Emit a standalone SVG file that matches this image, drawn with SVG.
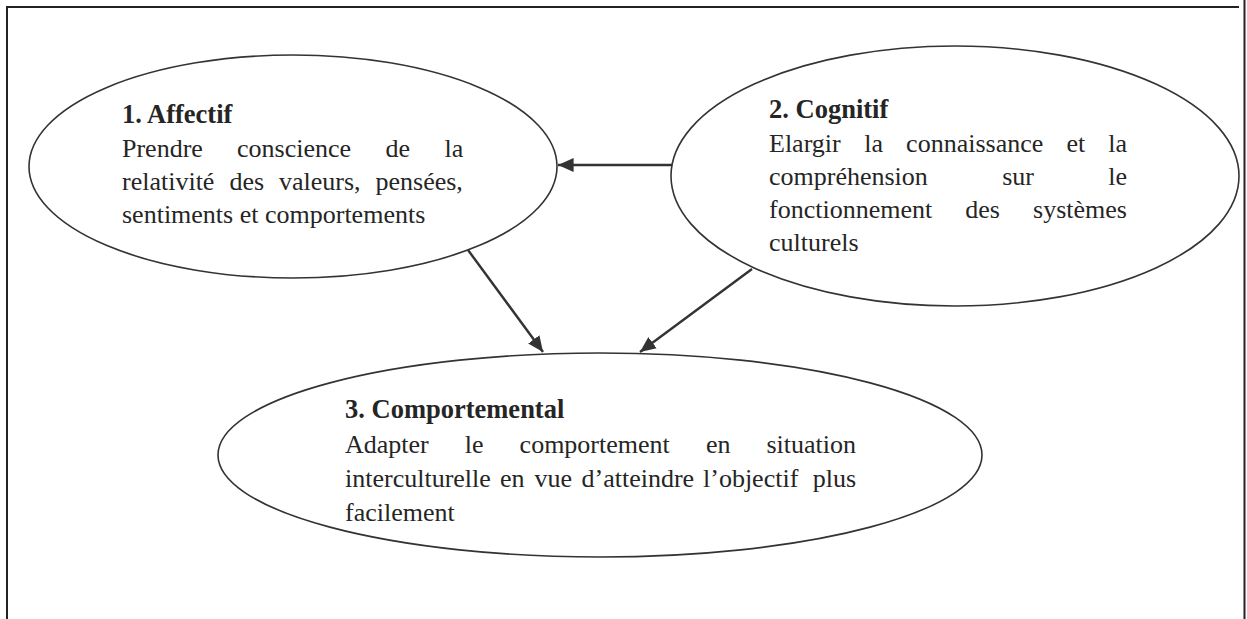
<svg xmlns="http://www.w3.org/2000/svg" width="1247" height="619" viewBox="0 0 1247 619">
  <defs>
    <marker id="arrow" viewBox="0 0 10 10" refX="10" refY="5" markerWidth="6.5" markerHeight="6.5" markerUnits="strokeWidth" orient="auto">
      <path d="M0,0.5 L10,5 L0,9.5 z" fill="#333"/>
    </marker>
    <style>
      .frame { stroke: #222; stroke-width: 2; fill: none; }
      .oval { fill: none; stroke: #333; stroke-width: 1.6; }
      .edge { stroke: #333; stroke-width: 2.4; fill: none; marker-end: url(#arrow); }
      text { font-family: "Liberation Serif", "Times New Roman", serif; fill: #252525; font-size: 26px; }
      .title { font-weight: bold; font-size: 26.5px; }
    </style>
  </defs>
  <rect width="1247" height="619" fill="#fff"/>

  <!-- page frame -->
  <path class="frame" d="M7,619 V7 H1239"/>
  <path class="frame" d="M1244.5,0 V619"/>

  <!-- connectors -->
  <g id="connectors">
    <line class="edge" x1="672" y1="165" x2="558" y2="165"/>
    <line class="edge" x1="468" y1="250" x2="543" y2="352"/>
    <line class="edge" x1="752" y1="269" x2="640" y2="352"/>
  </g>

  <!-- node 1: justified paragraph, words placed per line -->
  <g id="affectif">
    <ellipse class="oval" cx="293" cy="166.5" rx="264" ry="111.5"/>
    <text class="title" x="122" y="123">1. Affectif</text>
    <text y="157"><tspan x="122">Prendre</tspan><tspan x="237">conscience</tspan><tspan x="385.5">de</tspan><tspan x="444.5">la</tspan></text>
    <text y="190"><tspan x="122">relativité</tspan><tspan x="229.5">des</tspan><tspan x="279">valeurs,</tspan><tspan x="375.5">pensées,</tspan></text>
    <text x="122" y="223">sentiments et comportements</text>
  </g>

  <!-- node 2 -->
  <g id="cognitif">
    <ellipse class="oval" cx="955" cy="176" rx="284" ry="130"/>
    <text class="title" x="769" y="118">2. Cognitif</text>
    <text y="152"><tspan x="769">Elargir</tspan><tspan x="864.3">la</tspan><tspan x="906.1">connaissance</tspan><tspan x="1066.4">et</tspan><tspan x="1108.2">la</tspan></text>
    <text y="185"><tspan x="769">compréhension</tspan><tspan x="1002.2">sur</tspan><tspan x="1108.2">le</tspan></text>
    <text y="218"><tspan x="769">fonctionnement</tspan><tspan x="965.3">des</tspan><tspan x="1033.1">systèmes</tspan></text>
    <text x="769" y="251">culturels</text>
  </g>

  <!-- node 3 -->
  <g id="comportemental">
    <ellipse class="oval" cx="600" cy="455" rx="382" ry="102"/>
    <text class="title" x="345" y="418">3. Comportemental</text>
    <text y="453"><tspan x="345">Adapter</tspan><tspan x="464.8">le</tspan><tspan x="519.6">comportement</tspan><tspan x="705.9">en</tspan><tspan x="766.4">situation</tspan></text>
    <text y="487"><tspan x="345">interculturelle</tspan><tspan x="500">en</tspan><tspan x="534.5">vue</tspan><tspan x="581.5">d’atteindre</tspan><tspan x="703">l’objectif</tspan><tspan x="812.8">plus</tspan></text>
    <text x="345" y="521">facilement</text>
  </g>
</svg>
